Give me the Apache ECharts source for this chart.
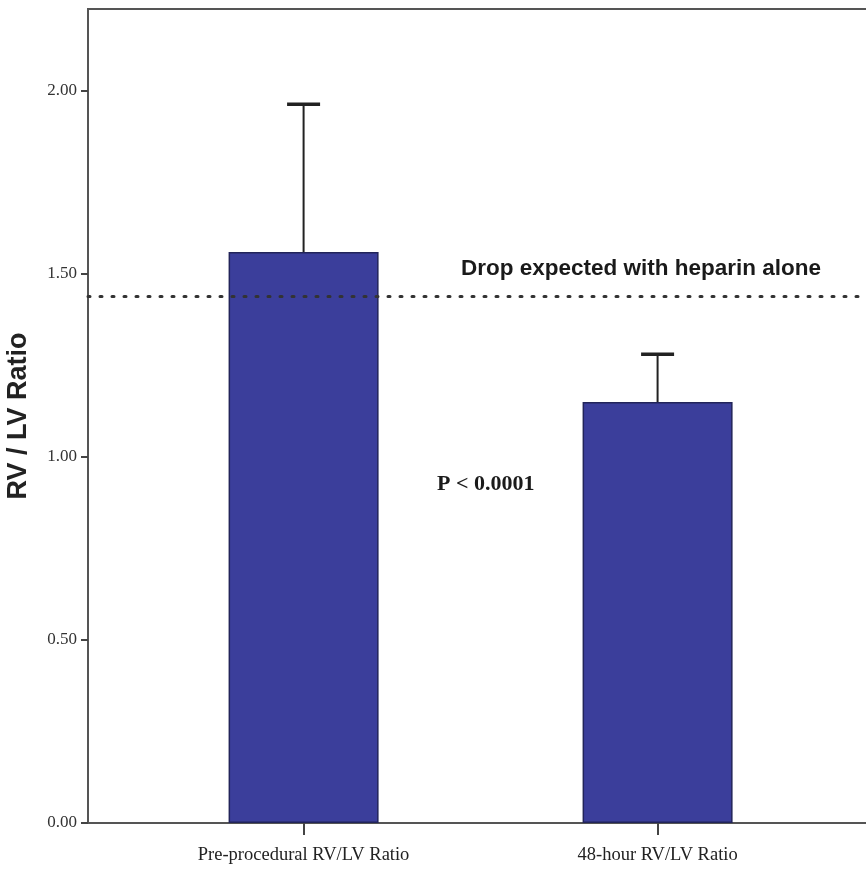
<!DOCTYPE html>
<html>
<head>
<meta charset="utf-8">
<script src="https://cdn.jsdelivr.net/npm/echarts@6/dist/echarts.min.js"></script>
<style>
  html, body { margin: 0; padding: 0; background: #fff; }
  #chart { width: 866px; height: 870px; }
</style>
</head>
<body>
<div id="chart"></div>
<script>
// data
const categories = ["Pre-procedural RV/LV Ratio", "48-hour RV/LV Ratio"];
const meanValues = [1.56, 1.15];
const errorTops = [1.964, 1.281];
const heparinDrop = 1.437;
const yTicks = [0, 0.5, 1, 1.5, 2];

const chart = echarts.init(document.getElementById("chart"));

const barData = categories.map((c, i) => [i, meanValues[i]]);
const errData = categories.map((c, i) => [i, meanValues[i], errorTops[i]]);

const SERIF = "'Liberation Serif', 'DejaVu Serif', serif";
const SANS = "'Liberation Sans', Arial, sans-serif";

const option = {
  animation: false,
  backgroundColor: "#fff",
  grid: {
    left: 88,
    right: -10,
    top: 9,
    bottom: 47,
    outerBoundsMode: "none",
    containLabel: false,
    show: true,
    borderColor: "#555",
    borderWidth: 2,
  },
  xAxis: {
    type: "value",
    min: -0.609,
    max: 1.617,
    splitLine: { show: false },
    axisLine: { show: true, onZero: false, lineStyle: { color: "#555", width: 2 } },
    axisTick: {
      show: true,
      customValues: [0, 1],
      length: 12,
      lineStyle: { color: "#444", width: 2 },
    },
    axisLabel: {
      customValues: [0, 1],
      formatter: (v) => categories[Math.round(v)] || "",
      fontFamily: SERIF,
      fontSize: 18.5,
      color: "#222",
      margin: 23,
    },
  },
  yAxis: {
    type: "value",
    min: 0,
    max: 2.224,
    name: "RV / LV Ratio",
    nameLocation: "middle",
    nameGap: 56,
    nameTextStyle: {
      fontFamily: SANS,
      fontWeight: "bold",
      fontSize: 27,
      color: "#222",
    },
    splitLine: { show: false },
    axisLine: { show: true, onZero: false, lineStyle: { color: "#555", width: 2 } },
    axisTick: {
      show: true,
      customValues: yTicks,
      length: 7,
      lineStyle: { color: "#444", width: 2 },
    },
    axisLabel: {
      customValues: yTicks,
      formatter: (v) => v.toFixed(2),
      fontFamily: SERIF,
      fontSize: 17,
      color: "#333",
      margin: 11,
    },
  },
  series: [
    {
      type: "bar",
      data: barData,
      barWidth: 150,
      itemStyle: {
        color: "#3b3e9b",
        borderColor: "#22245a",
        borderWidth: 1.5,
      },
      markLine: {
        silent: true,
        symbol: "none",
        label: { show: false },
        lineStyle: {
          type: [2, 10],
          cap: "round",
          color: "#333",
          width: 3,
        },
        data: [{ yAxis: heparinDrop }],
      },
    },
    {
      type: "custom",
      data: errData,
      z: 1,
      renderItem: (params, api) => {
        const x = api.value(0);
        const base = api.coord([x, api.value(1)]);
        const top = api.coord([x, api.value(2)]);
        const half = 16.5;
        return {
          type: "group",
          children: [
            {
              type: "line",
              shape: { x1: base[0], y1: base[1], x2: top[0], y2: top[1] },
              style: { stroke: "#222", lineWidth: 2 },
            },
            {
              type: "line",
              shape: { x1: top[0] - half, y1: top[1], x2: top[0] + half, y2: top[1] },
              style: { stroke: "#222", lineWidth: 3.5 },
            },
          ],
        };
      },
    },
  ],
  graphic: [
    {
      type: "text",
      left: 461,
      top: 257,
      style: {
        text: "Drop expected with heparin alone",
        fontFamily: SANS,
        fontWeight: "bold",
        fontSize: 22.5,
        fill: "#1a1a1a",
      },
    },
    {
      type: "text",
      left: 437,
      top: 473,
      style: {
        text: "P < 0.0001",
        fontFamily: SERIF,
        fontWeight: "bold",
        fontSize: 22,
        fill: "#1a1a1a",
      },
    },
  ],
};

chart.setOption(option);
window.addEventListener("resize", () => chart.resize());
</script>
</body>
</html>
